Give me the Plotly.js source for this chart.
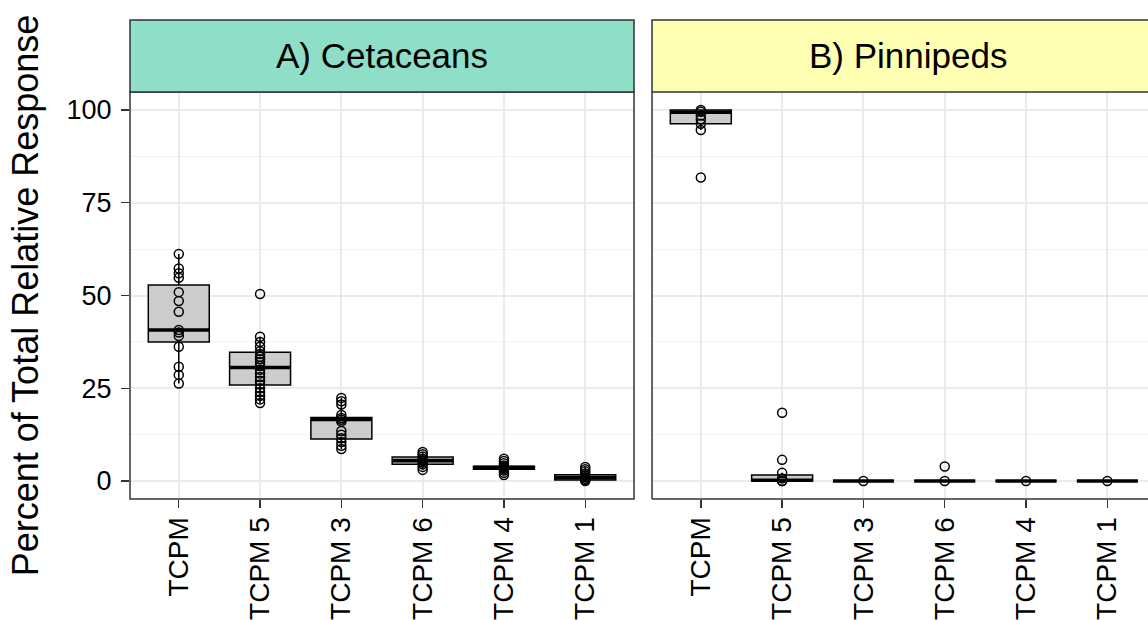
<!DOCTYPE html>
<html>
<head>
<meta charset="utf-8">
<script src="https://cdn.plot.ly/plotly-3.0.1.min.js"></script>
<style>
  html, body { margin: 0; padding: 0; background: #fff; overflow: hidden; }
  #chart { width: 1148px; height: 620px; }
</style>
</head>
<body>
<div id="chart"></div>
<script>
// ---------- data ----------
const categories = ["TCPM", "TCPM 5", "TCPM 3", "TCPM 6", "TCPM 4", "TCPM 1"];
const panelTitles = ["A) Cetaceans", "B) Pinnipeds"];
const yTickVals = [0, 25, 50, 75, 100];

// A) Cetaceans box statistics
const cetQ1     = [37.5, 25.9, 11.3, 4.5, 3.2, 0.3];
const cetMedian = [40.7, 30.6, 16.6, 5.5, 3.6, 0.9];
const cetQ3     = [52.8, 34.7, 17.1, 6.5, 4.0, 1.7];
const cetLower  = [26.3, 21.0, 8.6, 3.0, 2.2, 0.0];
const cetUpper  = [61.2, 38.9, 22.4, 7.8, 5.0, 3.8];

// A) Cetaceans observations
const cetTCPM  = [61.2, 57.3, 56.0, 54.8, 50.9, 48.5, 45.6, 40.7, 40.0, 39.1, 36.2, 30.8, 28.6, 26.3];
const cetTCPM5 = [50.4, 38.9, 37.5, 36.2, 35.0, 34.2, 33.5, 32.8, 32.0, 31.0, 30.0, 29.0, 28.0, 27.0, 26.0, 25.0, 24.0, 23.0, 22.0, 21.0];
const cetTCPM3 = [22.4, 21.5, 20.6, 17.8, 17.0, 16.5, 16.0, 13.5, 12.5, 11.5, 10.5, 9.5, 8.6];
const cetTCPM6 = [7.8, 7.2, 6.6, 6.0, 5.5, 5.0, 4.5, 3.8, 3.0];
const cetTCPM4 = [6.0, 5.4, 4.8, 4.2, 3.8, 3.5, 3.2, 2.8, 2.2, 1.6];
const cetTCPM1 = [3.8, 3.2, 2.6, 2.0, 1.5, 1.0, 0.6, 0.3, 0.0];

// B) Pinnipeds box statistics
const pinQ1     = [96.3, 0.0, 0, 0, 0, 0];
const pinMedian = [99.4, 0.2, 0, 0, 0, 0];
const pinQ3     = [100.0, 1.6, 0, 0, 0, 0];
const pinLower  = [94.6, 0.0, 0, 0, 0, 0];
const pinUpper  = [100.0, 2.2, 0, 0, 0, 0];

// B) Pinnipeds observations
const pinTCPM  = [100.0, 99.5, 98.5, 97.5, 96.3, 94.6, 81.8];
const pinTCPM5 = [18.4, 5.7, 2.2, 0.7, 0.0, 0.0];
const pinTCPM3 = [0.0];
const pinTCPM6 = [3.9, 0.0];
const pinTCPM4 = [0.0];
const pinTCPM1 = [0.0];

// ---------- build ----------
const FONT = "Liberation Sans, Arial, Helvetica, sans-serif";
const cetObs = [cetTCPM, cetTCPM5, cetTCPM3, cetTCPM6, cetTCPM4, cetTCPM1];
const pinObs = [pinTCPM, pinTCPM5, pinTCPM3, pinTCPM6, pinTCPM4, pinTCPM1];

function boxTrace(q1, med, q3, lo, hi, xa, ya) {
  return {
    type: "box", x: categories, q1: q1, median: med, q3: q3,
    lowerfence: lo, upperfence: hi, xaxis: xa, yaxis: ya,
    boxpoints: false, width: 0.75, whiskerwidth: 0,
    fillcolor: "#CCCCCC", line: { color: "#000000", width: 1.5 },
    hoverinfo: "skip", showlegend: false
  };
}
function medianTrace(med, xa, ya) {
  return {
    type: "box", x: categories, q1: med, median: med, q3: med,
    lowerfence: med, upperfence: med, xaxis: xa, yaxis: ya,
    boxpoints: false, width: 0.75, whiskerwidth: 0,
    fillcolor: "rgba(0,0,0,0)", line: { color: "#000000", width: 3.6 },
    hoverinfo: "skip", showlegend: false
  };
}
function pointTrace(obs, xa, ya) {
  const xs = [], ys = [];
  obs.forEach((arr, i) => arr.forEach(v => { xs.push(categories[i]); ys.push(v); }));
  return {
    type: "scatter", mode: "markers", x: xs, y: ys, xaxis: xa, yaxis: ya,
    marker: { symbol: "circle-open", size: 9, color: "#000000", line: { width: 1.5, color: "#000000" } },
    hoverinfo: "skip", showlegend: false
  };
}

const traces = [
  boxTrace(cetQ1, cetMedian, cetQ3, cetLower, cetUpper, "x", "y"),
  medianTrace(cetMedian, "x", "y"),
  pointTrace(cetObs, "x", "y"),
  boxTrace(pinQ1, pinMedian, pinQ3, pinLower, pinUpper, "x2", "y2"),
  medianTrace(pinMedian, "x2", "y2"),
  pointTrace(pinObs, "x2", "y2")
];

const gridColor = "#EBEBEB";
const xCommon = {
  type: "category", categoryorder: "array", categoryarray: categories,
  showgrid: true, gridcolor: gridColor, gridwidth: 2,
  ticks: "outside", ticklen: 8, tickwidth: 1.4, tickcolor: "#333333",
  tickangle: -90, tickfont: { family: FONT, size: 28, color: "#000000" },
  ticklabelstandoff: -2,
  showline: false, zeroline: false, fixedrange: true
};
const yCommon = {
  range: [-4.85, 104.85], tickvals: yTickVals,
  showgrid: true, gridcolor: gridColor, gridwidth: 2,
  minor: { dtick: 12.5, tick0: 12.5, showgrid: true, gridcolor: "#F2F2F2", gridwidth: 1, ticklen: 0 },
  zeroline: false, showline: false, fixedrange: true
};

const layout = {
  width: 1148, height: 620,
  margin: { l: 130, r: 0, t: 92, b: 121 },
  paper_bgcolor: "#FFFFFF", plot_bgcolor: "#FFFFFF",
  font: { family: FONT, color: "#000000" },
  boxmode: "overlay", showlegend: false,
  xaxis: Object.assign({}, xCommon, { domain: [0, 0.4951], range: [-0.6, 5.6], anchor: "y" }),
  xaxis2: Object.assign({}, xCommon, { domain: [0.5128, 1], range: [-0.6, 5.5], anchor: "y2" }),
  yaxis: Object.assign({}, yCommon, {
    anchor: "x", ticks: "outside", ticklen: 8, tickwidth: 1.4, tickcolor: "#333333",
    tickfont: { family: FONT, size: 27, color: "#000000" },
    ticklabelstandoff: 4,
    title: { text: "Percent of Total Relative Response", font: { family: FONT, size: 36, color: "#000000" }, standoff: 16 }
  }),
  yaxis2: Object.assign({}, yCommon, { anchor: "x2", matches: "y", showticklabels: false, ticks: "" }),
  shapes: [
    // panel borders
    { type: "rect", xref: "x domain", yref: "y domain", x0: 0, x1: 1, y0: 0, y1: 1, line: { color: "#333333", width: 1.5 }, layer: "above" },
    { type: "line", xref: "x2 domain", yref: "y2 domain", x0: 0, x1: 0, y0: 0, y1: 1, line: { color: "#333333", width: 1.5 }, layer: "above" },
    { type: "line", xref: "x2 domain", yref: "y2 domain", x0: 0, x1: 1.01, y0: 0, y1: 0, line: { color: "#333333", width: 1.5 }, layer: "above" },
    // strips
    { type: "rect", xref: "x domain", yref: "y domain", x0: 0, x1: 1, y0: 1, y1: 1.1769, fillcolor: "#8EDEC8", line: { color: "#333333", width: 1.5 }, layer: "above" },
    { type: "rect", xref: "x2 domain", yref: "y2 domain", x0: 0, x1: 1.02, y0: 1, y1: 1.1769, fillcolor: "#FFFFB3", line: { color: "#333333", width: 1.5 }, layer: "above" }
  ],
  annotations: [
    { xref: "x domain", yref: "y domain", x: 0.5, y: 1.0885, text: panelTitles[0], showarrow: false, xanchor: "center", yanchor: "middle", font: { family: FONT, size: 35, color: "#000000" } },
    { xref: "x2 domain", yref: "y2 domain", x: 0.5164, y: 1.0885, text: panelTitles[1], showarrow: false, xanchor: "center", yanchor: "middle", font: { family: FONT, size: 35, color: "#000000" } }
  ]
};

Plotly.newPlot("chart", traces, layout, { staticPlot: true, displayModeBar: false });
</script>
</body>
</html>
